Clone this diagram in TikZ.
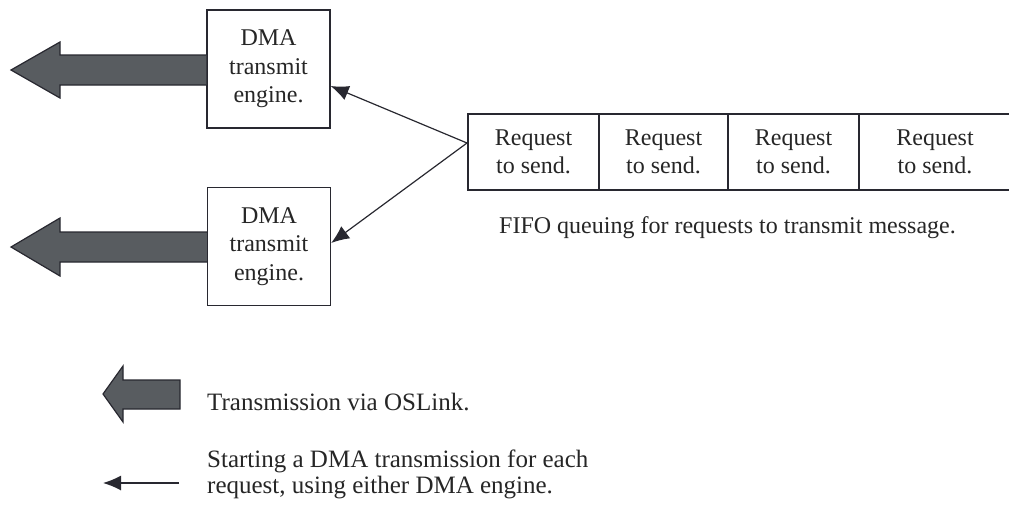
\documentclass[tikz,border=0pt]{standalone}
\usepackage{fontspec}
\setmainfont{Liberation Serif}
\usetikzlibrary{arrows.meta,calc}
\definecolor{inkline}{RGB}{40,40,48}
\definecolor{linkfill}{RGB}{88,92,96}
\tikzset{
  engine/.style={draw=inkline, line width=1.3pt, fill=white, minimum width=123pt,
    minimum height=118pt, align=center, inner sep=0pt,
    font=\fontsize{24}{28.5}\selectfont, text=black!85},
  cell/.style={draw=inkline, line width=1.3pt, minimum height=76pt, align=center,
    inner sep=0pt, font=\fontsize{24}{28}\selectfont, text=black!85},
  label/.style={align=left, anchor=west, inner sep=0pt,
    font=\fontsize{25}{26}\selectfont, text=black!85},
  bigarrow/.style={draw=inkline, line width=1.2pt, fill=linkfill, line join=miter},
  request/.style={draw=inkline, line width=1.2pt,
    -{Latex[length=18pt,width=15pt]}}
}
\begin{document}
\begin{tikzpicture}[x=1pt,y=-1pt]
\useasboundingbox (0,0) rectangle (1009,506);

% DMA transmit engines
\node[engine] (e1) at (268.5,69) {DMA\\transmit\\engine.};
\node[engine] (e2) at (269,246.5) {DMA\\transmit\\engine.};

% outgoing OSLink transmissions
\draw[bigarrow] (e1.west |- 0,55) -- (60,55) -- (60,42) -- (11,70)
  -- (60,98) -- (60,85) -- (e1.west |- 0,85);
\draw[bigarrow] (e2.west |- 0,232) -- (60,232) -- (60,218) -- (11,247)
  -- (60,276) -- (60,262) -- (e2.west |- 0,262);

% FIFO request queue
\node[cell, minimum width=131pt] (q1) at (533.5,152) {Request\\to send.};
\node[cell, minimum width=129pt] (q2) at (663.5,152) {Request\\to send.};
\node[cell, minimum width=131pt] (q3) at (793.5,152) {Request\\to send.};
\node[cell, minimum width=152pt] (q4) at (935,152) {Request\\to send.};
\node[label, font=\fontsize{24}{26}\selectfont] (fifo) at (499,228)
  {FIFO queuing for requests to transmit message.};

% dispatch of each request to either engine
\coordinate (head) at (467,143);
\draw[request] (head) -- (e1.east |- 0,86);
\draw[request] (head) -- (e2.east |- 0,243);

% legend
\draw[bigarrow] (180,380) -- (123,380) -- (123,366) -- (103,394)
  -- (123,422) -- (123,409) -- (180,409) -- cycle;
\node[label] (leg1) at (207,402) {Transmission via OSLink.};
\coordinate (lthin) at (179,483);
\coordinate (lthintip) at (103,483);
\draw[request] (lthin) -- (lthintip);
\node[label] (leg2) at (207,474) {Starting a DMA transmission for each\\request, using either DMA engine.};
\end{tikzpicture}
\end{document}
